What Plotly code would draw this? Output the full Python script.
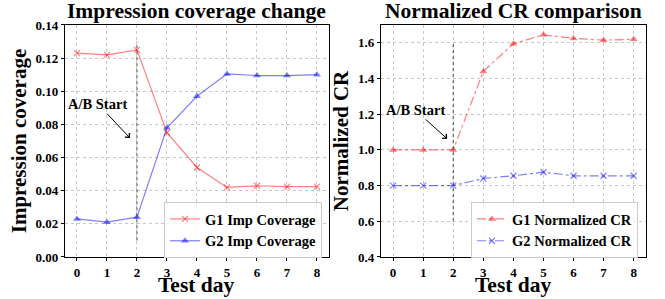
import plotly.graph_objects as go

days = [0, 1, 2, 3, 4, 5, 6, 7, 8]
g1_cov = [0.123, 0.122, 0.125, 0.075, 0.054, 0.042, 0.043, 0.0425, 0.0425]
g2_cov = [0.023, 0.021, 0.024, 0.078, 0.097, 0.1105, 0.1095, 0.1095, 0.110]
g1_cr = [1.0, 1.0, 1.0, 1.44, 1.595, 1.645, 1.625, 1.615, 1.62]
g2_cr = [0.80, 0.80, 0.80, 0.84, 0.855, 0.875, 0.855, 0.855, 0.855]
cov_ticks = [0.0, 0.02, 0.04, 0.06, 0.08, 0.10, 0.12, 0.14]
cr_ticks = [0.4, 0.6, 0.8, 1.0, 1.2, 1.4, 1.6]

RED = "rgba(255,0,0,0.5)"
BLUE = "rgba(0,0,255,0.5)"
FONT = "Liberation Serif"

fig = go.Figure()
fig.add_trace(go.Scatter(x=days, y=g1_cov, mode="lines+markers", name="G1 Imp Coverage",
                         line=dict(color=RED, width=1.2), marker=dict(symbol="x-thin", size=6, line=dict(color=RED, width=1.2)),
                         xaxis="x", yaxis="y", legend="legend"))
fig.add_trace(go.Scatter(x=days, y=g2_cov, mode="lines+markers", name="G2 Imp Coverage",
                         line=dict(color=BLUE, width=1.2), marker=dict(symbol="triangle-up", size=7, color=BLUE),
                         xaxis="x", yaxis="y", legend="legend"))
fig.add_trace(go.Scatter(x=days, y=g1_cr, mode="lines+markers", name="G1 Normalized CR",
                         line=dict(color=RED, width=1.2, dash="dashdot"), marker=dict(symbol="triangle-up", size=7, color=RED),
                         xaxis="x2", yaxis="y2", legend="legend2"))
fig.add_trace(go.Scatter(x=days, y=g2_cr, mode="lines+markers", name="G2 Normalized CR",
                         line=dict(color=BLUE, width=1.2, dash="dashdot"), marker=dict(symbol="x-thin", size=6, line=dict(color=BLUE, width=1.2)),
                         xaxis="x2", yaxis="y2", legend="legend2"))

# A/B start vertical lines
fig.add_trace(go.Scatter(x=[2, 2], y=[0.01, 0.13], mode="lines", line=dict(color="#444", width=1, dash="dot"),
                         showlegend=False, xaxis="x", yaxis="y", hoverinfo="skip"))
fig.add_trace(go.Scatter(x=[2, 2], y=[0.6, 1.6], mode="lines", line=dict(color="#444", width=1, dash="dot"),
                         showlegend=False, xaxis="x2", yaxis="y2", hoverinfo="skip"))

titlefont = dict(family=FONT, size=21, color="black", weight="bold")
axcommon = dict(showline=True, linecolor="black", linewidth=1.2, mirror=True, ticks="outside", ticklen=3,
                tickcolor="black", showgrid=True, gridcolor="#c8c8c8", griddash="dot", gridwidth=1,
                zeroline=False, automargin=False,
                tickfont=dict(family=FONT, size=13, color="black", weight="bold"))
legfont = dict(family=FONT, size=14.5, color="black", weight="bold")

fig.update_layout(
    width=665, height=299, margin=dict(l=0, r=0, t=0, b=0),
    plot_bgcolor="white", paper_bgcolor="white",
    xaxis=dict(domain=[0.0977, 0.4947], range=[-0.4, 8.4], tickvals=days, anchor="y", **axcommon),
    yaxis=dict(domain=[0.1405, 0.9164], range=[0, 0.14], tickvals=cov_ticks, tickformat=".2f", anchor="x",
               title=dict(text="Impression coverage", font=titlefont, standoff=3), **axcommon),
    xaxis2=dict(domain=[0.573, 0.971], range=[-0.4, 8.4], tickvals=days, anchor="y2", **axcommon),
    yaxis2=dict(domain=[0.1405, 0.9164], range=[0.4, 1.7], tickvals=cr_ticks,
                tickformat=".1f", anchor="x2",
                title=dict(text="Normalized CR", font=titlefont, standoff=3), **axcommon),
    legend=dict(x=0.4842, y=0.2308, xanchor="right", yanchor="middle", bgcolor="rgba(255,255,255,0.8)",
                bordercolor="#cccccc", borderwidth=1, font=legfont, tracegroupgap=0),
    legend2=dict(x=0.9594, y=0.2308, xanchor="right", yanchor="middle", bgcolor="rgba(255,255,255,0.8)",
                 bordercolor="#cccccc", borderwidth=1, font=legfont, tracegroupgap=0),
    showlegend=True,
)

for cx in [(0.0977 + 0.4947) / 2, (0.573 + 0.971) / 2]:
    fig.add_annotation(text="<b>Test day</b>", x=cx, y=0.0468, xref="paper", yref="paper",
                       xanchor="center", yanchor="middle", showarrow=False, font=dict(family=FONT, size=21.5, color="black"))

fig.add_annotation(text="<b>Impression coverage change</b>", x=(0.0977 + 0.4947) / 2, y=1.01, xref="paper", yref="paper",
                   xanchor="center", yanchor="top", showarrow=False, font=dict(family=FONT, size=21.5, color="black"))
fig.add_annotation(text="<b>Normalized CR comparison</b>", x=(0.573 + 0.971) / 2, y=1.01, xref="paper", yref="paper",
                   xanchor="center", yanchor="top", showarrow=False, font=dict(family=FONT, size=21.5, color="black"))

fig.add_annotation(text="<b>A/B Start</b>", x=1.767, y=0.0718, ax=0.70, ay=0.0923, xref="x", yref="y", axref="x", ayref="y",
                   showarrow=True, arrowhead=4, arrowsize=1.2, arrowwidth=1, arrowcolor="black",
                   font=dict(family=FONT, size=14.5, color="black"))
fig.add_annotation(text="<b>A/B Start</b>", x=1.8, y=1.062, ax=0.733, ay=1.224, xref="x2", yref="y2", axref="x2", ayref="y2",
                   showarrow=True, arrowhead=4, arrowsize=1.2, arrowwidth=1, arrowcolor="black",
                   font=dict(family=FONT, size=14.5, color="black"))

fig.write_html("out.html", config={"displayModeBar": False},
               post_script="document.body.style.margin='0';")
